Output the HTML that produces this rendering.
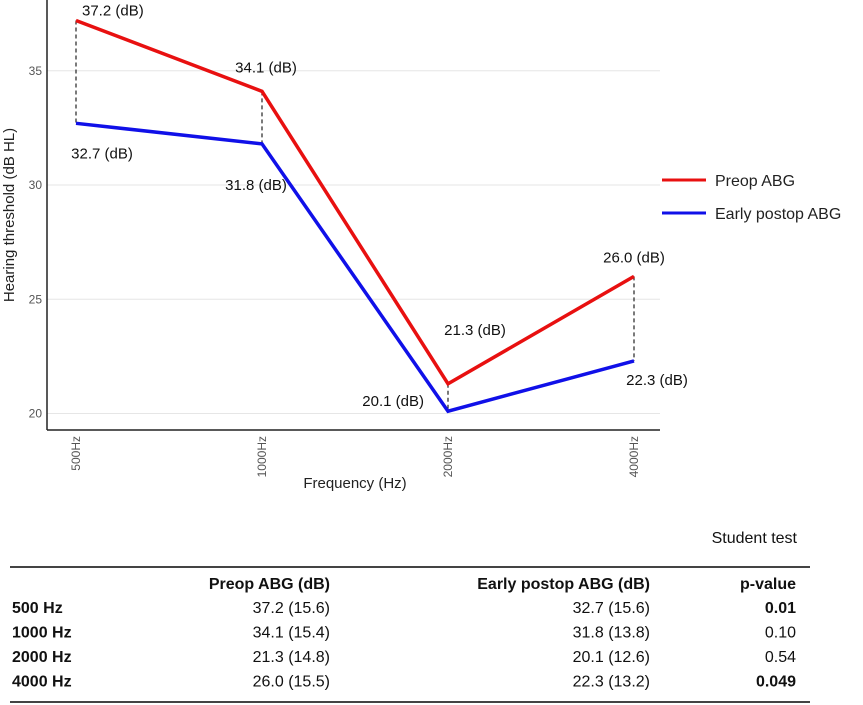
<!DOCTYPE html>
<html><head><meta charset="utf-8"><style>
body{margin:0;background:#fff;width:863px;height:705px;overflow:hidden;font-family:"Liberation Sans",sans-serif}
svg{position:absolute;left:0;top:0}
</style></head><body>
<svg width="863" height="705">
<g id="grid"></g><g id="marks"></g><g id="labels"></g>
<line x1="47" y1="0" x2="47" y2="430" stroke="#222" stroke-width="1.5"/>
<line x1="47" y1="430" x2="660" y2="430" stroke="#222" stroke-width="1.5"/>
<text x="14" y="215" transform="rotate(-90 14 215)" font-size="15" text-anchor="middle" fill="#222">Hearing threshold (dB HL)</text>
<text x="355" y="488" font-size="15" text-anchor="middle" fill="#222">Frequency (Hz)</text>
<line x1="662" y1="180" x2="706" y2="180" stroke="#e81010" stroke-width="3"/>
<text x="715" y="186" font-size="16" fill="#222">Preop ABG</text>
<line x1="662" y1="213" x2="706" y2="213" stroke="#1010e8" stroke-width="3"/>
<text x="715" y="219" font-size="16" fill="#222">Early postop ABG</text>
<g font-family="Liberation Sans, sans-serif" font-size="16" fill="#111">
<text x="797" y="543" text-anchor="end">Student test</text>
<line x1="10" y1="567" x2="810" y2="567" stroke="#444" stroke-width="2"/>
<line x1="10" y1="702" x2="810" y2="702" stroke="#444" stroke-width="2"/>
<g font-weight="bold">
<text x="330" y="589" text-anchor="end">Preop ABG (dB)</text>
<text x="650" y="589" text-anchor="end">Early postop ABG (dB)</text>
<text x="796" y="589" text-anchor="end">p-value</text>
</g>
<g id="rows"></g>
</g>
</svg>
<script>
const categories=["500Hz","1000Hz","2000Hz","4000Hz"];
const preop=[37.2,34.1,21.3,26.0];
const postop=[32.7,31.8,20.1,22.3];
const yTicks=[20,25,30,35];
const rowLabels=["500 Hz","1000 Hz","2000 Hz","4000 Hz"];
const preopSd=["15.6","15.4","14.8","15.5"];
const postopSd=["15.6","13.8","12.6","13.2"];
const pvals=["0.01","0.10","0.54","0.049"];
const pBold=[true,false,false,true];
const NS="http://www.w3.org/2000/svg";
function X(i){return 76+i*186;}
function Y(v){return 413.5-(v-20)*22.85;}
function mk(p,t,a){const e=document.createElementNS(NS,t);for(const k in a)e.setAttribute(k,a[k]);p.appendChild(e);return e;}
const grid=document.getElementById('grid'),marks=document.getElementById('marks'),labels=document.getElementById('labels');
yTicks.forEach(v=>{
 const l=mk(grid,'line',{x1:47,x2:660,y1:Y(v),y2:Y(v),stroke:'#e6e6e6','stroke-width':1});
 
 
 const t=mk(grid,'text',{x:42,y:Y(v)+4,'font-size':12,'text-anchor':'end',fill:'#555'});t.textContent=v;
 
 
});
categories.forEach((c,i)=>{
 const t=mk(grid,'text',{x:X(i)+4,y:436,'font-size':12,'text-anchor':'end',fill:'#555',transform:`rotate(-90 ${X(i)+4} 436)`});t.textContent=c;
 
 
 const d=mk(marks,'line',{x1:X(i),x2:X(i),y1:Y(preop[i]),y2:Y(postop[i]),stroke:'#222','stroke-dasharray':'4,3','stroke-width':1.2});
 
 
});
function line(vals,col,name){
 const p=mk(marks,'polyline',{points:vals.map((v,i)=>X(i)+','+Y(v)).join(' '),fill:'none',stroke:col,'stroke-width':3.5});
 
 
}
line(preop,'#e81010','preop-line');line(postop,'#1010e8','postop-line');
const preOff=[[6,-5,'start'],[4,-19,'middle'],[27,-49,'middle'],[0,-14,'middle']];
const postOff=[[26,35,'middle'],[-6,46,'middle'],[-24,-5,'end'],[23,24,'middle']];
function lab(v,o,i){const t=mk(labels,'text',{x:X(i)+o[0],y:Y(v)+o[1],'font-size':15,'text-anchor':o[2],fill:'#111'});t.textContent=v.toFixed(1)+' (dB)';
 
 }
preop.forEach((v,i)=>lab(v,preOff[i],i));
postop.forEach((v,i)=>lab(v,postOff[i],i));
const rows=document.getElementById('rows');
rowLabels.forEach((r,i)=>{
 const y=613+i*24.5;
 const a=mk(rows,'text',{x:12,y:y,'font-weight':'bold'});a.textContent=r;
 
 
 const b=mk(rows,'text',{x:330,y:y,'text-anchor':'end'});b.textContent=preop[i].toFixed(1)+' ('+preopSd[i]+')';
 
 
 const c=mk(rows,'text',{x:650,y:y,'text-anchor':'end'});c.textContent=postop[i].toFixed(1)+' ('+postopSd[i]+')';
 
 
 const d=mk(rows,'text',{x:796,y:y,'text-anchor':'end','font-weight':pBold[i]?'bold':'normal'});d.textContent=pvals[i];
 
 
});
</script>
</body></html>
